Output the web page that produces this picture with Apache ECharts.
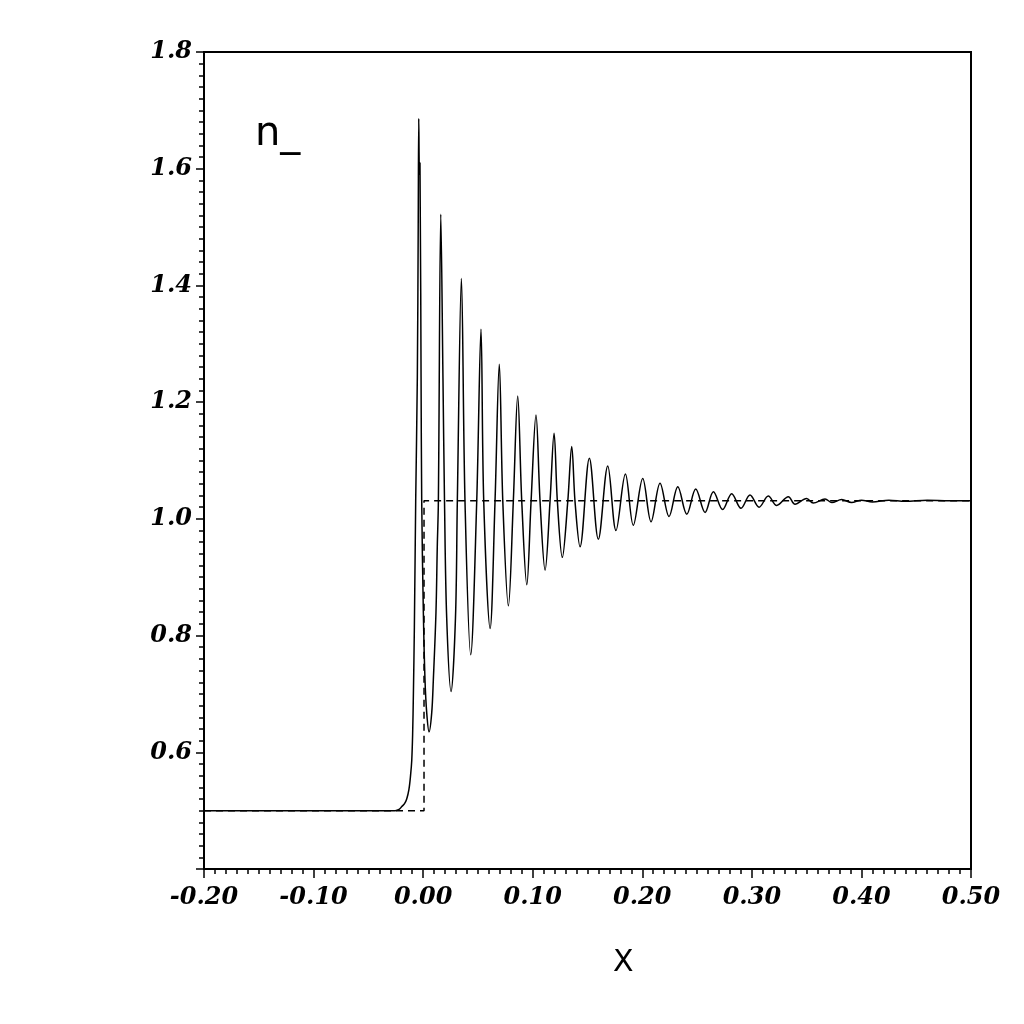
<!DOCTYPE html>
<html>
<head>
<meta charset="utf-8">
<script src="https://cdn.jsdelivr.net/npm/echarts@6/dist/echarts.min.js"></script>
<style>
html,body{margin:0;padding:0;background:#fff;}
#chart{width:1024px;height:1024px;}
</style>
</head>
<body>
<div id="chart"></div>
<script>
// Solid curve n_(x) (peaks, troughs, crossings)
const curveX = [
 -0.200,-0.150,-0.100,-0.050,-0.0256,-0.0220,-0.0195,-0.0170,-0.0150,-0.0130,-0.0115,-0.0104,-0.0096,-0.0089,
 -0.0080,-0.0068,-0.0053,-0.0045,
 -0.0040,-0.0034,-0.0029,-0.0019,-0.0013,0.0002,0.0017,0.0033,0.0054,0.0078,0.0093,0.0117,0.0129,0.0139,
 0.0161,0.0181,0.0195,0.0215,0.0255,0.0295,0.0312,0.0349,0.0382,0.0434,0.0489,0.0528,0.0553,0.0611,
 0.0656,0.0695,0.0727,0.0778,0.0823,0.0863,0.0900,0.0946,0.0985,0.1030,0.1067,0.1113,0.1158,0.1195,0.1225,
 0.1270,0.1320,0.1356,0.1386,0.1432,0.1517,0.1599,0.1685,0.1760,0.1846,0.1918,0.2004,0.2080,
 0.2162,0.2244,0.2324,0.2406,0.2488,0.2573,0.2649,0.2734,0.2816,0.2901,0.2983,0.3066,0.3150,0.3227,0.3333,
 0.3394,0.3500,0.3560,0.3668,0.3730,0.3820,0.3910,0.4000,0.4100,0.4250,0.4400,0.4600,0.4800,0.5000
];
const curveY = [
 0.500,0.500,0.500,0.500,0.500,0.502,0.507,0.512,0.520,0.536,0.560,0.586,0.630,0.700,
 0.815,1.030,1.243,1.500,
 1.686,1.590,1.610,1.243,1.030,0.839,0.724,0.667,0.635,0.667,0.724,0.839,0.952,1.030,
 1.522,1.240,1.030,0.830,0.704,0.830,1.030,1.412,1.030,0.767,1.030,1.325,1.030,0.812,
 1.030,1.265,1.030,0.851,1.030,1.2105,1.030,0.887,1.030,1.178,1.030,0.912,1.030,1.1465,1.030,
 0.934,1.030,1.124,1.030,0.952,1.104,0.965,1.0905,0.980,1.077,0.989,1.069,0.995,
 1.061,1.004,1.055,1.008,1.051,1.011,1.0465,1.016,1.043,1.018,1.041,1.020,1.039,1.023,1.038,
 1.025,1.035,1.027,1.034,1.028,1.033,1.028,1.032,1.029,1.032,1.030,1.032,1.031,1.031
];
// Dashed step profile
const stepX = [-0.200, 0.0008, 0.0008, 0.500];
const stepY = [0.500, 0.500, 1.031, 1.031];

const curveData = curveX.map((x, i) => [x, curveY[i]]);
const stepData = stepX.map((x, i) => [x, stepY[i]]);

const chart = echarts.init(document.getElementById('chart'), null, {renderer: 'canvas'});
const labelFont = {fontFamily: 'DejaVu Serif', fontWeight: 'bold', fontStyle: 'italic', fontSize: 24, color: '#000'};
chart.setOption({
  animation: false,
  backgroundColor: '#fff',
  grid: {left: 204, right: 53, top: 52, bottom: 155, show: true, borderColor: '#000', borderWidth: 2, backgroundColor: 'transparent'},
  xAxis: {
    type: 'value', min: -0.2, max: 0.5, interval: 0.1,
    axisLine: {show: true, onZero: false, lineStyle: {color: '#000', width: 2}},
    axisTick: {show: true, length: 9, lineStyle: {color: '#000', width: 1.5}},
    minorTick: {show: true, splitNumber: 10, length: 5, lineStyle: {color: '#000', width: 1.5}},
    splitLine: {show: false},
    axisLabel: Object.assign({margin: 17, showMinLabel: true, showMaxLabel: true,
      formatter: v => v.toFixed(2)}, labelFont)
  },
  yAxis: {
    type: 'value', min: 0.4, max: 1.8, interval: 0.2,
    axisLine: {show: true, onZero: false, lineStyle: {color: '#000', width: 2}},
    axisTick: {show: true, length: 8, lineStyle: {color: '#000', width: 1.5}},
    minorTick: {show: true, splitNumber: 10, length: 5, lineStyle: {color: '#000', width: 1.5}},
    splitLine: {show: false},
    axisLabel: Object.assign({margin: 12, showMinLabel: true, showMaxLabel: true,
      formatter: v => (Math.abs(v - 0.4) < 1e-6 ? '' : v.toFixed(1))}, labelFont)
  },
  graphic: [
    {type: 'text', left: 613, top: 948, style: {text: 'X', font: '30px "DejaVu Sans"', fill: '#000'}},
    {type: 'text', left: 255, top: 115, style: {text: 'n_', font: '40px "DejaVu Sans"', fill: '#000'}}
  ],
  series: [
    {type: 'line', data: stepData, showSymbol: false, smooth: false,
     lineStyle: {color: '#000', width: 1.5, type: [7, 5]}, z: 2},
    {type: 'line', data: curveData, showSymbol: false, smooth: 0.35,
     lineStyle: {color: '#000', width: 1.5}, z: 3}
  ]
});
</script>
</body>
</html>
